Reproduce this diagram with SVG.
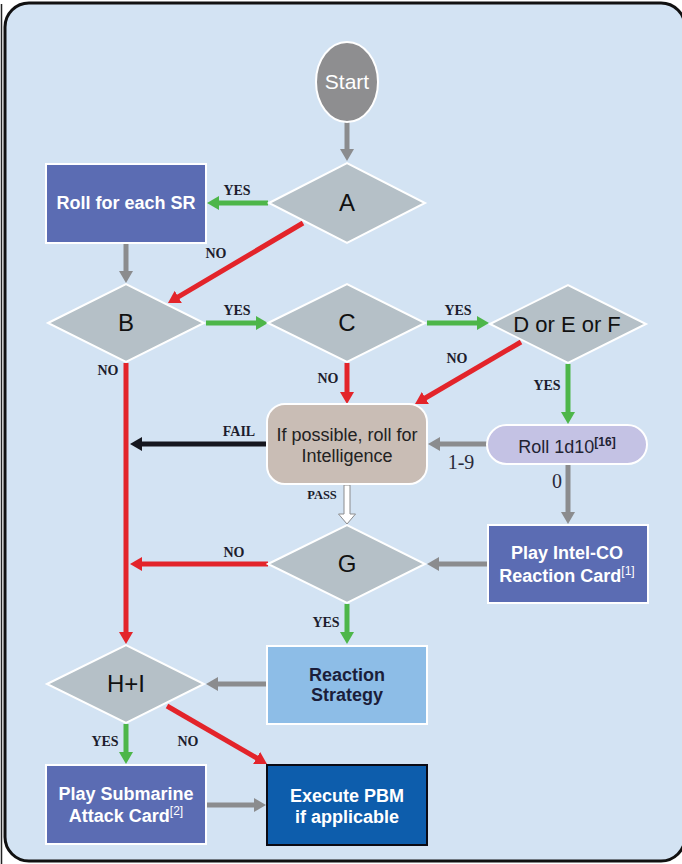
<svg xmlns="http://www.w3.org/2000/svg" width="682" height="864" viewBox="0 0 682 864">
  <style>
    .dia { fill: #b5c0c7; stroke: #ffffff; stroke-width: 2; }
    .box { fill: #5b6cb3; stroke: #ffffff; stroke-width: 2; }
    .dtxt { font-family: "Liberation Sans", Arial, sans-serif; font-size: 24px; fill: #111111; text-anchor: middle; }
    .btxt { font-family: "Liberation Sans", Arial, sans-serif; font-size: 18px; font-weight: bold; fill: #ffffff; text-anchor: middle; }
    .lbl { font-family: "Liberation Serif", "Times New Roman", serif; font-size: 14px; font-weight: bold; fill: #1c1c2c; text-anchor: middle; }
    .num { font-family: "Liberation Serif", "Times New Roman", serif; font-size: 20px; fill: #2a2a3a; text-anchor: middle; }
    .sup { font-size: 12px; }
    .c { fill: none; stroke-width: 5; }
    .green { stroke: #4db649; }
    .red { stroke: #e3242a; }
    .gray { stroke: #8b8c8e; }
    .black { stroke: #16171f; }
  </style>
  <defs>
    <marker id="hGreen" markerUnits="userSpaceOnUse" viewBox="0 0 12 14" markerWidth="12" markerHeight="14" refX="3" refY="7" orient="auto">
      <path d="M0,0 L12,7 L0,14 z" fill="#4db649"/>
    </marker>
    <marker id="hRed" markerUnits="userSpaceOnUse" viewBox="0 0 12 14" markerWidth="12" markerHeight="14" refX="3" refY="7" orient="auto">
      <path d="M0,0 L12,7 L0,14 z" fill="#e3242a"/>
    </marker>
    <marker id="hGray" markerUnits="userSpaceOnUse" viewBox="0 0 12 14" markerWidth="12" markerHeight="14" refX="3" refY="7" orient="auto">
      <path d="M0,0 L12,7 L0,14 z" fill="#8b8c8e"/>
    </marker>
    <marker id="hBlack" markerUnits="userSpaceOnUse" viewBox="0 0 12 14" markerWidth="12" markerHeight="14" refX="3" refY="7" orient="auto">
      <path d="M0,0 L12,7 L0,14 z" fill="#16171f"/>
    </marker>
  </defs>

  <!-- page and frame -->
  <rect x="0" y="0" width="682" height="864" fill="#ffffff"/>
  <line x1="1.5" y1="4" x2="1.5" y2="864" stroke="#222222" stroke-width="1.5"/>
  <rect x="5" y="3" width="680" height="858" rx="24" ry="24" fill="#d3e3f3" stroke="#111111" stroke-width="3"/>

  <!-- connectors -->
  <g id="connectors">
    <line class="c gray" x1="347" y1="122" x2="347" y2="152" marker-end="url(#hGray)"/>
    <line class="c green" x1="268" y1="203" x2="216" y2="203" marker-end="url(#hGreen)"/>
    <line class="c red" x1="303" y1="223" x2="175.7" y2="298.4" marker-end="url(#hRed)"/>
    <line class="c gray" x1="126" y1="244" x2="126" y2="274" marker-end="url(#hGray)"/>
    <line class="c green" x1="206" y1="323" x2="259" y2="323" marker-end="url(#hGreen)"/>
    <line class="c green" x1="427" y1="323" x2="480" y2="323" marker-end="url(#hGreen)"/>
    <line class="c red" x1="521" y1="342" x2="422.8" y2="399.5" marker-end="url(#hRed)"/>
    <line class="c red" x1="347" y1="363" x2="347" y2="395" marker-end="url(#hRed)"/>
    <line class="c green" x1="568" y1="364" x2="568" y2="415" marker-end="url(#hGreen)"/>
    <line class="c gray" x1="487" y1="444" x2="437" y2="444" marker-end="url(#hGray)"/>
    <line class="c gray" x1="568" y1="464" x2="568" y2="515" marker-end="url(#hGray)"/>
    <line class="c gray" x1="487" y1="564" x2="436" y2="564" marker-end="url(#hGray)"/>
    <!-- hollow PASS arrow -->
    <path d="M344,485 L350,485 L350,514 L355.5,514 L347,524 L338.5,514 L344,514 z" fill="#ffffff" stroke="#8b8c8e" stroke-width="1"/>
    <line class="c black" x1="266" y1="444" x2="139" y2="444" marker-end="url(#hBlack)"/>
    <line class="c red" x1="126" y1="363" x2="126" y2="635" marker-end="url(#hRed)"/>
    <line class="c red" x1="268" y1="564" x2="139" y2="564" marker-end="url(#hRed)"/>
    <line class="c green" x1="347" y1="604" x2="347" y2="635" marker-end="url(#hGreen)"/>
    <line class="c gray" x1="266" y1="684" x2="215" y2="684" marker-end="url(#hGray)"/>
    <line class="c green" x1="126" y1="724" x2="126" y2="755" marker-end="url(#hGreen)"/>
    <line class="c red" x1="167" y1="706" x2="259.2" y2="759.5" marker-end="url(#hRed)"/>
    <line class="c gray" x1="207" y1="805" x2="257" y2="805" marker-end="url(#hGray)"/>

    <!-- connector labels -->
    <text class="lbl" x="237" y="195">YES</text>
    <text class="lbl" x="216" y="258">NO</text>
    <text class="lbl" x="237" y="315">YES</text>
    <text class="lbl" x="458" y="315">YES</text>
    <text class="lbl" x="108" y="375">NO</text>
    <text class="lbl" x="328" y="383">NO</text>
    <text class="lbl" x="457" y="363">NO</text>
    <text class="lbl" x="547" y="390">YES</text>
    <text class="lbl" x="239" y="436">FAIL</text>
    <text class="num" x="461" y="469">1-9</text>
    <text class="num" x="557" y="488">0</text>
    <text class="lbl" x="322" y="499" style="font-size:12.5px">PASS</text>
    <text class="lbl" x="234" y="557">NO</text>
    <text class="lbl" x="326" y="627">YES</text>
    <text class="lbl" x="105" y="746">YES</text>
    <text class="lbl" x="188" y="746">NO</text>
  </g>

  <!-- nodes -->
  <g id="start">
    <ellipse cx="347" cy="82" rx="31" ry="40" fill="#8e8e90" stroke="#ffffff" stroke-width="2"/>
    <text x="347" y="89" style="font-family:'Liberation Sans',Arial,sans-serif;font-size:21px;fill:#ffffff;text-anchor:middle">Start</text>
  </g>

  <g id="node-a">
    <polygon class="dia" points="269,203 347,163 425,203 347,243"/>
    <text class="dtxt" x="347" y="211">A</text>
  </g>

  <g id="roll-each-sr">
    <rect class="box" x="46" y="164" width="160" height="79"/>
    <text class="btxt" x="126" y="209">Roll for each SR</text>
  </g>

  <g id="node-b">
    <polygon class="dia" points="48,323 126,284 204,323 126,362"/>
    <text class="dtxt" x="126" y="331">B</text>
  </g>

  <g id="node-c">
    <polygon class="dia" points="268,323 347,284 425,323 347,362"/>
    <text class="dtxt" x="347" y="331">C</text>
  </g>

  <g id="node-def">
    <polygon class="dia" points="490,324 568,285 646,324 568,363"/>
    <text class="dtxt" x="567" y="332" style="font-size:22px">D or E or F</text>
  </g>

  <g id="intel-roll">
    <rect x="267" y="404" width="160" height="80" rx="18" ry="18" fill="#c9bdb5" stroke="#ffffff" stroke-width="2"/>
    <text x="347" y="441" style="font-family:'Liberation Sans',Arial,sans-serif;font-size:18px;fill:#222222;text-anchor:middle">If possible, roll for</text>
    <text x="347" y="462" style="font-family:'Liberation Sans',Arial,sans-serif;font-size:18px;fill:#222222;text-anchor:middle">Intelligence</text>
  </g>

  <g id="roll-1d10">
    <rect x="487" y="425" width="160" height="39" rx="19.5" ry="19.5" fill="#c4c2e4" stroke="#ffffff" stroke-width="2"/>
    <text x="567" y="453" style="font-family:'Liberation Sans',Arial,sans-serif;font-size:18px;fill:#222233;text-anchor:middle">Roll 1d10<tspan class="sup" dy="-7" font-weight="bold">[16]</tspan></text>
  </g>

  <g id="play-intel-co">
    <rect class="box" x="488" y="525" width="160" height="78"/>
    <text class="btxt" x="567" y="559">Play Intel-CO</text>
    <text class="btxt" x="567" y="582">Reaction Card<tspan class="sup" dy="-7" font-weight="normal">[1]</tspan></text>
  </g>

  <g id="node-g">
    <polygon class="dia" points="268,564 347,525 425,564 347,603"/>
    <text class="dtxt" x="347" y="572">G</text>
  </g>

  <g id="node-hi">
    <polygon class="dia" points="47,684 126,645 204,684 126,723"/>
    <text class="dtxt" x="126" y="692">H+I</text>
  </g>

  <g id="reaction-strategy">
    <rect x="267" y="646" width="160" height="78" fill="#8dbde7" stroke="#ffffff" stroke-width="2"/>
    <text class="btxt" x="347" y="681" style="fill:#1b1d3a">Reaction</text>
    <text class="btxt" x="347" y="701" style="fill:#1b1d3a">Strategy</text>
  </g>

  <g id="play-submarine">
    <rect class="box" x="46" y="765" width="160" height="79"/>
    <text class="btxt" x="126" y="800">Play Submarine</text>
    <text class="btxt" x="126" y="822">Attack Card<tspan class="sup" dy="-7" font-weight="normal">[2]</tspan></text>
  </g>

  <g id="execute-pbm">
    <rect x="267" y="765" width="160" height="80" fill="#0d5dac" stroke="#0a0a14" stroke-width="2"/>
    <text class="btxt" x="347" y="802">Execute PBM</text>
    <text class="btxt" x="347" y="823">if applicable</text>
  </g>
</svg>
